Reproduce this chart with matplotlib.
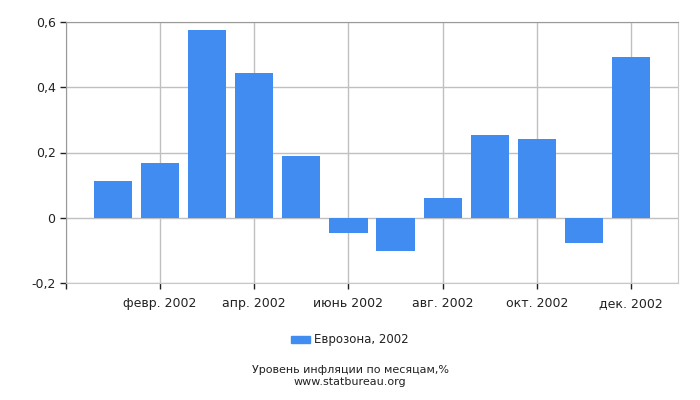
import matplotlib
matplotlib.use("Agg")
import matplotlib.pyplot as plt
from matplotlib.patches import Patch

months = list(range(1, 13))
values = [0.114, 0.167, 0.575, 0.445, 0.189, -0.048, -0.101, 0.062, 0.254, 0.241, -0.076, 0.492]
tick_pos = [2, 4, 6, 8, 10, 12]
tick_labels = ["февр. 2002", "апр. 2002", "июнь 2002", "авг. 2002", "окт. 2002", "дек. 2002"]
y_ticks = [-0.2, 0.0, 0.2, 0.4, 0.6]
y_labels = ["-0,2", "0", "0,2", "0,4", "0,6"]
series_name = "Еврозона, 2002"
title1 = "Уровень инфляции по месяцам,%"
title2 = "www.statbureau.org"

plt.rcParams['font.family'] = ['DejaVu Sans']
fig = plt.figure(figsize=(7, 4), dpi=100)
ax = fig.add_axes([66/700, 1-283/400, (678-66)/700, (283-22)/400])
bar_color = "#418cf0"
ax.bar(months, values, width=0.81, color=bar_color, zorder=3)
ax.set_xlim(0, 13)
ax.set_ylim(-0.2, 0.6)
ax.set_yticks(y_ticks)
ax.set_yticklabels(y_labels)
ax.set_xticks([0] + tick_pos)
ax.set_xticklabels([""] + tick_labels)
ax.tick_params(axis='both', labelsize=9, colors="#222222", length=4, width=1)
ax.tick_params(axis='x', pad=6)
for t in ax.get_xticklines() + ax.get_yticklines():
    t.set_color("#222222")
ax.grid(True, color="#c0c0c0", linewidth=1, zorder=0)
for s in ["top", "left"]:
    ax.spines[s].set_color("#999999")
for s in ["right", "bottom"]:
    ax.spines[s].set_color("#c8c8c8")

leg = fig.legend(handles=[Patch(color=bar_color, label=series_name)],
                 loc="center", bbox_to_anchor=(350/700, 1-340/400), frameon=False,
                 fontsize=8.5, handlelength=1.6, handleheight=0.6, handletextpad=0.4)
for t in leg.get_texts():
    t.set_color("#222222")
fig.text(350/700, 1-370/400, title1, ha="center", va="center", fontsize=8, color="#222222")
fig.text(350/700, 1-382/400, title2, ha="center", va="center", fontsize=8, color="#222222")
fig.savefig("out.png", dpi=100)
